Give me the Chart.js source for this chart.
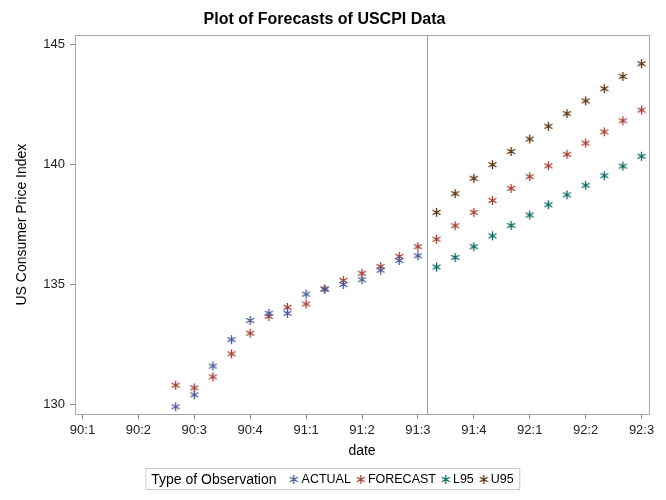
<!DOCTYPE html>
<html>
<head>
<meta charset="utf-8">
<script src="https://cdn.jsdelivr.net/npm/chart.js@4/dist/chart.umd.min.js"></script>
<style>
  body { margin: 0; background: #fff; }
  #wrap { position: relative; width: 666px; height: 500px; }
  #legend {
    position: absolute; left: 333px; top: 468px; height: 22px;
    transform: translateX(-50%);
    border: 1px solid #c8c8c8; box-sizing: border-box;
    display: flex; align-items: center; padding: 0 6px 0 5px; white-space: nowrap;
    font-family: "Liberation Sans", Arial, sans-serif; font-size: 14px; color: #000;
  }
  #legend .ttl { margin-right: 8px; }
  #legend .item { display: flex; align-items: center; margin-left: 4px; font-size: 12.5px; }
  #legend canvas { margin-right: 2px; }
</style>
</head>
<body>
<div id="wrap">
  <canvas id="chart" width="666" height="500"></canvas>
  <div id="legend"><span class="ttl">Type of Observation</span></div>
</div>
<script>
// monthly observations, Jun 1990 .. Jul 1992
const actualDates = ['1990-06','1990-07','1990-08','1990-09','1990-10','1990-11','1990-12',
                     '1991-01','1991-02','1991-03','1991-04','1991-05','1991-06','1991-07'];
const actual = [129.9, 130.4, 131.6, 132.7, 133.5, 133.8, 133.8, 134.6, 134.8, 135.0, 135.2, 135.6, 136.0, 136.2];

const forecastDates = actualDates.concat(['1991-08','1991-09','1991-10','1991-11','1991-12',
                     '1992-01','1992-02','1992-03','1992-04','1992-05','1992-06','1992-07']);
const forecast = [130.80, 130.69, 131.15, 132.11, 132.97, 133.67, 134.05, 134.19, 134.82, 135.17,
                  135.47, 135.75, 136.17, 136.58, 136.89, 137.45, 138.01, 138.51, 139.01, 139.50,
                  139.95, 140.43, 140.90, 141.37, 141.83, 142.28];

const bandDates = forecastDates.slice(14);
const l95 = [135.73, 136.13, 136.58, 137.03, 137.46, 137.90, 138.33, 138.74, 139.14, 139.54, 139.94, 140.35];
const u95 = [138.01, 138.79, 139.43, 140.00, 140.55, 141.07, 141.60, 142.13, 142.66, 143.17, 143.68, 144.21];

const seriesNames = ['ACTUAL', 'FORECAST', 'L95', 'U95'];
const seriesColors = ['#445694', '#A23A2E', '#01665E', '#543005'];

const quarterLabels = ['90:1','90:2','90:3','90:4','91:1','91:2','91:3','91:4','92:1','92:2','92:3'];
const yTicks = [130, 135, 140, 145];
const refDate = 18.5; // forecast origin, mid July 1991

// months since Jan 1990
const monthNo = d => (Number(d.slice(0, 4)) - 1990) * 12 + Number(d.slice(5, 7)) - 1;
const toPts = (dates, vals) => dates.map((d, i) => ({ x: monthNo(d), y: vals[i] }));

function asterisk(color) {
  const c = document.createElement('canvas');
  c.width = 11; c.height = 11;
  const g = c.getContext('2d');
  g.strokeStyle = color;
  g.lineWidth = 1.3;
  g.beginPath();
  for (let k = 0; k < 3; k++) {
    const a = Math.PI / 2 + k * Math.PI / 3;
    const dx = Math.cos(a) * 4.6, dy = Math.sin(a) * 4.6;
    g.moveTo(5.5 - dx, 5.5 - dy);
    g.lineTo(5.5 + dx, 5.5 + dy);
  }
  g.stroke();
  return c;
}

const markers = seriesColors.map(asterisk);
const allData = [toPts(actualDates, actual), toPts(forecastDates, forecast),
                 toPts(bandDates, l95), toPts(bandDates, u95)];

// frame around the plot + vertical reference line
const framePlugin = {
  id: 'frame',
  beforeDatasetsDraw(chart) {
    const { ctx, chartArea: a, scales } = chart;
    ctx.save();
    ctx.strokeStyle = '#9a9a9a';
    ctx.lineWidth = 1;
    const rx = Math.round(scales.x.getPixelForValue(refDate)) + 0.5;
    ctx.beginPath();
    ctx.moveTo(rx, a.top);
    ctx.lineTo(rx, a.bottom);
    ctx.stroke();
    ctx.strokeStyle = '#a8a8a8';
    ctx.strokeRect(Math.round(a.left) + 0.5, Math.round(a.top) + 0.5,
                   Math.round(a.right - a.left), Math.round(a.bottom - a.top));
    ctx.restore();
  }
};

const font = "'Liberation Sans', Arial, sans-serif";

new Chart(document.getElementById('chart'), {
  type: 'scatter',
  data: {
    datasets: seriesNames.map((name, i) => ({
      label: name,
      data: allData[i],
      pointStyle: markers[i],
      pointRadius: 5,
      borderColor: seriesColors[i],
      backgroundColor: seriesColors[i]
    }))
  },
  options: {
    responsive: false,
    animation: false,
    layout: { padding: { top: 0, right: 17, bottom: 36, left: 0 } },
    plugins: {
      legend: { display: false },
      tooltip: { enabled: false },
      title: {
        display: true,
        text: 'Plot of Forecasts of USCPI Data',
        color: '#000',
        font: { family: font, size: 16, weight: 'bold' },
        padding: { top: 10, bottom: 6 }
      }
    },
    scales: {
      x: {
        type: 'linear',
        min: -0.4, max: 30.4,
        afterBuildTicks: s => { s.ticks = quarterLabels.map((_, i) => ({ value: i * 3 })); },
        afterFit: s => { s.height = 50; },
        ticks: {
          callback: v => quarterLabels[Math.round(v / 3)],
          color: '#222', font: { family: font, size: 13 }, padding: 4, maxRotation: 0
        },
        grid: { drawOnChartArea: false, tickLength: 5, color: '#8a8a8a' },
        border: { display: false },
        title: {
          display: true, text: 'date', color: '#000',
          font: { family: font, size: 14 }, padding: { top: 4, bottom: 4 }
        }
      },
      y: {
        min: 129.6, max: 145.4,
        afterBuildTicks: s => { s.ticks = yTicks.map(v => ({ value: v })); },
        afterFit: s => { s.width = 75; },
        ticks: { color: '#222', font: { family: font, size: 13 }, padding: 5 },
        grid: { drawOnChartArea: false, tickLength: 5, color: '#8a8a8a' },
        border: { display: false },
        title: {
          display: true, text: 'US Consumer Price Index', color: '#000',
          font: { family: font, size: 14 }, padding: { top: 14, bottom: 4 }
        }
      }
    }
  },
  plugins: [framePlugin]
});

// legend row
const legend = document.getElementById('legend');
seriesNames.forEach((name, i) => {
  const item = document.createElement('span');
  item.className = 'item';
  item.appendChild(asterisk(seriesColors[i]));
  item.appendChild(document.createTextNode(name));
  legend.appendChild(item);
});
</script>
</body>
</html>
